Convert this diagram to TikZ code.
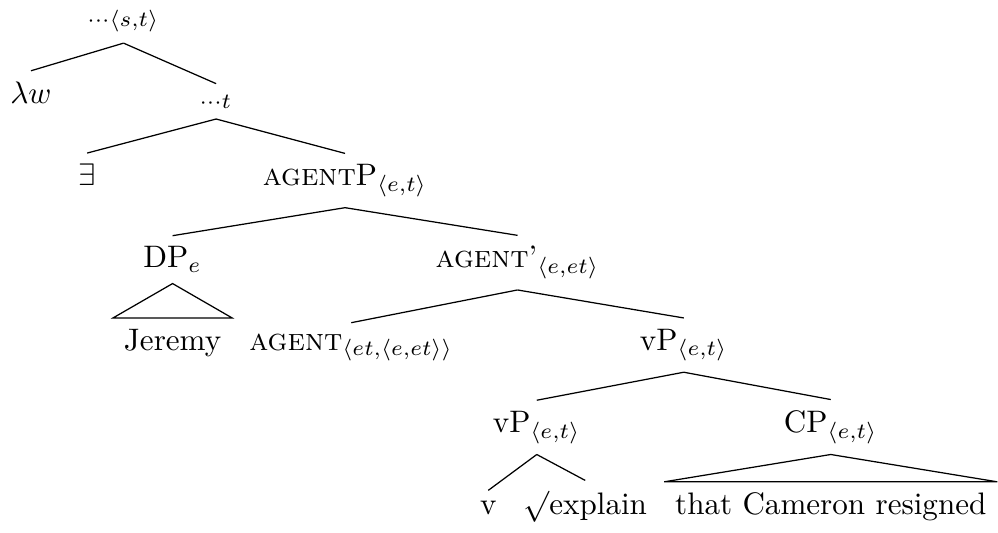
\documentclass[tikz,border=0pt]{standalone}
\usepackage{tikz}
\usepackage{tikz-qtree}
\usetikzlibrary{arrows,positioning}

\begin{document}
\begin{tikzpicture}[level distance=0.93cm]
  \Tree [.{$_{\cdots\langle s,t\rangle}$}
          {$\lambda w$}
          [.{$_{\cdots t}$}
            {$\exists$}
            [.{\textsc{agent}P$_{\langle e,t\rangle}$}
              [.DP$_e$ \edge[roof]; {Jeremy} ]
              [.{\textsc{agent}'$_{\langle e,et\rangle}$}
                {\textsc{agent}$_{\langle et,\langle e,et\rangle\rangle}$}
                [.vP$_{\langle e,t\rangle}$
                  [.vP$_{\langle e,t\rangle}$
                    v
                    {$\surd$explain}
                  ]
                  [.CP$_{\langle e,t\rangle}$ \edge[roof]; {that Cameron resigned} ]
                ]
              ]
            ]
          ]
        ]
\end{tikzpicture}
\end{document}
